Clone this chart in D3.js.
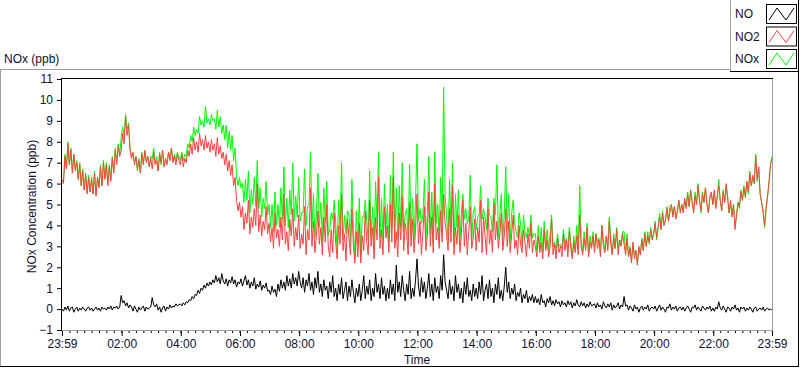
<!DOCTYPE html>
<html>
<head>
<meta charset="utf-8">
<script src="https://cdn.jsdelivr.net/npm/d3@7"></script>
<style>
  body { margin: 0; background: #fff; }
  svg { display: block; font-family: "Liberation Sans", Arial, sans-serif; font-size: 12px; }
</style>
</head>
<body>
<svg id="chart" width="800" height="369"></svg>
<script>
// samples every 3 minutes starting 23:59, one row per hour
const stepMinutes = 3;

const no2Values = [
  6.2, 6.0, 7.3, 6.7, 7.9, 6.9, 7.6, 6.5, 7.4, 6.6, 7.0, 6.2, 6.9, 5.9, 6.6, 5.7, 6.4, 5.5, 6.3, 5.6,
  6.2, 5.5, 6.5, 5.4, 6.3, 5.8, 6.8, 5.9, 7.0, 6.2, 6.9, 5.9, 6.8, 6.1, 7.2, 6.5, 7.6, 6.9, 7.8, 7.3,
  7.6, 8.4, 7.9, 9.2, 8.3, 8.8, 7.6, 7.2, 7.5, 6.9, 7.3, 6.7, 7.1, 6.5, 7.4, 6.9, 7.6, 7.0, 7.3, 6.8,
  7.2, 6.7, 7.5, 6.9, 7.1, 6.6, 7.4, 7.0, 7.6, 6.8, 7.2, 6.9, 7.5, 7.1, 7.7, 7.0, 7.3, 6.9, 7.4, 7.1,
  6.9, 7.4, 6.8, 7.2, 7.0, 7.6, 7.3, 7.9, 7.4, 8.2, 7.6, 8.0, 7.5, 8.4, 7.8, 8.1, 7.6, 8.3, 7.7, 8.0,
  7.5, 8.1, 7.6, 7.9, 7.3, 8.2, 7.4, 7.8, 7.2, 7.5, 6.9, 7.4, 6.6, 7.1, 6.4, 6.9, 5.9, 6.3, 5.2, 4.7,
  5.1, 4.4, 4.9, 3.8, 4.6, 4.1, 5.2, 3.6, 4.4, 3.9, 4.8, 4.0, 6.0, 3.7, 4.5, 3.5, 4.2, 3.8, 4.9, 3.6,
  4.1, 3.2, 3.9, 2.9, 4.6, 3.4, 3.8, 3.0, 4.4, 3.3, 5.5, 3.1, 3.7, 2.8, 4.3, 3.5, 4.8, 3.0, 3.9, 3.3,
  4.5, 2.9, 3.6, 3.1, 4.9, 2.6, 3.8, 3.3, 5.8, 3.0, 4.2, 2.7, 3.5, 4.7, 3.1, 3.9, 2.6, 4.4, 3.2, 5.0,
  3.0, 2.5, 3.8, 2.7, 4.6, 3.2, 2.4, 4.0, 3.1, 5.5, 2.8, 3.6, 2.3, 4.3, 3.4, 2.6, 4.8, 3.0, 2.2, 3.7,
  2.5, 4.1, 2.2, 3.5, 2.8, 4.7, 3.2, 2.6, 5.2, 3.0, 3.9, 2.4, 4.4, 3.3, 6.3, 2.9, 3.8, 2.6, 4.9, 3.4,
  4.0, 2.7, 5.0, 3.2, 6.3, 2.9, 3.7, 2.5, 4.6, 3.3, 5.4, 2.8, 4.1, 3.6, 2.6, 5.1, 3.0, 4.3, 2.7, 3.8,
  5.5, 3.1, 4.2, 2.6, 3.7, 4.9, 2.8, 3.5, 5.6, 3.0, 4.4, 2.7, 6.0, 3.3, 3.9, 2.9, 4.7, 3.2, 5.5, 4.1,
  3.6, 2.8, 4.8, 3.2, 5.9, 2.6, 3.9, 3.1, 4.5, 2.7, 3.6, 5.2, 3.0, 4.1, 2.6, 3.7, 4.9, 2.9, 3.4, 4.3,
  2.8, 3.9, 3.2, 5.2, 2.7, 4.4, 3.5, 2.6, 4.8, 3.1, 3.8, 2.7, 5.0, 3.3, 4.2, 2.9, 3.6, 4.6, 2.8, 3.5,
  4.8, 3.0, 4.2, 2.7, 3.6, 4.5, 2.9, 3.3, 2.6, 4.0, 3.1, 2.7, 3.8, 3.2, 2.5, 3.6, 2.9, 4.1, 2.7, 3.3,
  3.0, 2.5, 3.5, 2.7, 3.2, 2.4, 3.8, 2.8, 3.3, 2.5, 3.0, 4.3, 2.6, 3.1, 2.4, 3.4, 2.7, 3.0, 2.5, 3.6,
  2.8, 3.3, 2.5, 3.7, 2.9, 2.4, 3.2, 2.7, 3.5, 2.6, 4.5, 3.0, 2.6, 3.4, 2.8, 3.9, 2.5, 3.2, 2.9, 3.5,
  2.7, 3.6, 2.9, 3.3, 2.5, 4.0, 3.0, 2.7, 3.5, 2.8, 4.2, 3.1, 2.6, 3.4, 2.9, 3.8, 2.6, 3.3, 3.0, 3.6,
  3.1, 2.6, 3.4, 2.5, 2.9, 2.2, 3.2, 2.4, 2.8, 2.1, 3.0, 2.6, 3.3, 2.8, 3.6, 3.0, 3.5, 3.2, 3.8, 3.3,
  3.6, 4.1, 3.4, 3.9, 4.4, 3.8, 4.6, 4.0, 4.3, 4.8, 4.2, 4.6, 5.0, 4.4, 4.9, 4.3, 4.7, 5.2, 4.6, 5.0,
  4.6, 5.3, 4.8, 5.5, 4.9, 5.7, 5.1, 4.6, 5.4, 5.0, 5.9, 5.2, 4.7, 5.5, 5.1, 5.8, 5.0, 4.6, 5.3, 5.6,
  5.0, 5.7, 4.8, 5.4, 5.9, 5.2, 4.7, 5.6, 5.1, 6.0, 5.3, 4.6, 5.2, 4.4, 5.0, 3.8, 4.5, 5.1, 4.9, 5.6,
  5.2, 5.8, 5.4, 6.1, 5.6, 6.5, 5.9, 6.4, 6.0, 7.3, 6.2, 6.8, 5.5, 5.1, 4.6, 4.0, 4.8, 5.4, 6.1, 6.9,
  7.2
];

const noValues = [
  0.0, -0.1, 0.1, -0.05, 0.15, -0.1, 0.05, 0.1, -0.15, 0.0, 0.1, -0.1, 0.05, -0.05, 0.1, 0.0, -0.1, 0.05, 0.1, -0.05,
  0.05, -0.1, 0.0, 0.1, -0.05, 0.05, -0.1, 0.1, 0.0, 0.05, -0.05, 0.1, 0.0, 0.15, -0.05, 0.1, 0.05, 0.15, 0.0, 0.1,
  0.65, 0.3, 0.4, 0.15, 0.3, 0.05, 0.2, 0.1, -0.1, 0.15, 0.0, -0.15, 0.1, -0.05, 0.05, 0.15, -0.1, 0.1, 0.0, 0.05,
  0.1, 0.55, 0.2, 0.1, 0.25, -0.05, 0.1, -0.15, 0.05, 0.15, -0.1, 0.1, 0.0, 0.2, 0.05, 0.15, 0.1, 0.25, 0.15, 0.2,
  0.25, 0.15, 0.3, 0.2, 0.35, 0.3, 0.45, 0.4, 0.6, 0.5, 0.7, 0.65, 0.9, 0.75, 1.0, 0.9, 1.15, 1.0, 1.25, 1.1,
  1.3, 1.15, 1.4, 1.25, 1.6, 1.3, 1.5, 1.2, 1.7, 1.35, 1.2, 1.45, 1.1, 1.4, 1.25, 1.55, 1.2, 1.4, 1.05, 1.3,
  1.2, 1.45, 1.1, 1.35, 1.6, 1.15, 1.4, 1.0, 1.3, 1.1, 1.5, 0.95, 1.2, 1.05, 1.35, 0.9, 1.15, 1.0, 1.25, 0.85,
  0.9, 0.7, 1.1, 0.8, 0.95, 0.6, 1.2, 0.85, 1.4, 1.0, 1.3, 0.9, 1.6, 1.1, 1.45, 1.0, 1.7, 1.2, 1.5, 1.1,
  1.8, 1.3, 1.0, 1.5, 0.8, 1.4, 1.1, 1.7, 0.9, 1.3, 0.7, 1.5, 1.0, 1.8, 0.8, 1.2, 0.6, 1.4, 0.9, 1.1,
  0.5, 1.3, 0.8, 1.6, 0.6, 1.0, 0.4, 1.2, 0.7, 1.5, 0.5, 0.9, 1.3, 0.4, 1.1, 0.6, 1.4, 0.8, 0.3, 1.0,
  0.6, 1.2, 0.4, 0.9, 1.6, 0.5, 1.1, 0.7, 1.4, 0.4, 1.0, 0.6, 1.7, 0.8, 1.2, 0.5, 1.5, 0.7, 1.1, 0.4,
  1.0, 0.5, 1.4, 0.7, 1.2, 0.4, 2.1, 0.8, 1.3, 0.6, 1.6, 0.9, 0.4, 1.2, 0.7, 1.8, 0.5, 1.0, 0.6, 1.4,
  2.4, 1.1, 0.6, 1.5, 0.8, 1.3, 0.5, 1.0, 1.7, 0.6, 1.2, 0.4, 1.5, 0.8, 1.1, 0.5, 1.6, 0.9, 2.6, 1.3,
  0.9, 0.5, 1.4, 0.7, 1.1, 0.4, 1.6, 0.8, 1.2, 0.5, 1.0, 0.3, 1.3, 0.7, 1.5, 0.6, 0.9, 0.4, 1.2, 0.6,
  1.0, 0.5, 1.3, 0.7, 1.6, 0.4, 0.9, 1.2, 0.5, 1.4, 0.6, 1.0, 0.3, 1.2, 0.7, 1.5, 0.5, 0.9, 0.4, 1.1,
  2.0, 0.8, 1.3, 0.5, 1.0, 0.7, 1.2, 0.4, 0.8, 0.6, 1.0, 0.3, 0.7, 0.5, 0.9, 0.3, 0.6, 0.4, 0.7, 0.3,
  0.6, 0.3, 0.5, 0.2, 0.7, 0.3, 0.4, 0.1, 0.5, 0.3, 0.6, 0.2, 0.4, 0.15, 0.45, 0.25, 0.35, 0.1, 0.4, 0.2,
  0.3, 0.1, 0.4, 0.2, 0.35, 0.05, 0.3, 0.15, 0.45, 0.2, 0.1, 0.35, 0.15, 0.3, 0.05, 0.25, 0.1, 0.35, 0.15, 0.2,
  0.25, 0.05, 0.3, 0.1, 0.2, 0.0, 0.35, 0.15, 0.05, 0.25, 0.1, 0.3, -0.05, 0.2, 0.05, 0.15, 0.3, 0.0, 0.2, 0.1,
  0.6, 0.15, 0.2, -0.05, 0.15, 0.05, -0.1, 0.2, 0.0, 0.1, -0.15, 0.05, 0.15, -0.05, 0.1, 0.0, 0.2, -0.1, 0.05, 0.1,
  0.0, 0.15, -0.1, 0.05, 0.2, -0.05, 0.1, 0.0, -0.15, 0.1, 0.05, 0.25, -0.05, 0.1, 0.0, 0.15, -0.1, 0.05, 0.1, -0.05,
  0.1, -0.1, 0.05, 0.15, 0.0, -0.15, 0.1, 0.05, 0.2, -0.05, 0.1, 0.0, -0.1, 0.15, 0.05, -0.05, 0.1, 0.0, 0.15, -0.1,
  0.05, -0.1, 0.1, 0.0, 0.35, 0.05, -0.05, 0.15, 0.0, -0.15, 0.1, 0.05, -0.1, 0.1, 0.0, 0.2, -0.05, 0.05, -0.15, 0.1,
  0.0, 0.1, -0.1, 0.05, -0.05, 0.1, 0.0, -0.15, 0.05, 0.1, -0.1, 0.0, 0.05, -0.05, 0.1, -0.1, 0.0, 0.05, -0.05, 0.0,
  -0.05
];

const noxValues = [
  6.2, 6.1, 7.4, 6.7, 8.0, 6.9, 7.7, 6.6, 7.4, 6.7, 7.1, 6.2, 7.0, 5.9, 6.7, 5.7, 6.5, 5.6, 6.4, 5.6,
  6.3, 5.5, 6.6, 5.5, 6.3, 5.9, 6.9, 5.9, 7.1, 6.3, 7.0, 6.0, 6.9, 6.2, 7.3, 6.6, 7.7, 7.0, 7.9, 7.4,
  8.2, 8.7, 8.3, 9.3, 8.6, 8.9, 7.7, 7.3, 7.4, 7.0, 7.3, 6.6, 7.2, 6.5, 7.5, 7.0, 7.5, 7.1, 7.3, 6.8,
  7.3, 7.2, 7.7, 7.0, 7.3, 6.6, 7.5, 6.9, 7.6, 6.9, 7.1, 7.0, 7.5, 7.3, 7.7, 7.1, 7.4, 7.1, 7.5, 7.3,
  7.1, 7.5, 7.1, 7.4, 7.3, 7.9, 7.7, 8.3, 8.0, 8.7, 8.3, 8.6, 8.4, 9.2, 8.8, 9.0, 8.7, 9.7, 8.9, 9.1,
  8.8, 9.3, 9.0, 9.1, 8.6, 9.5, 8.7, 9.2, 8.4, 8.8, 8.1, 8.8, 7.7, 8.5, 7.6, 8.3, 7.1, 7.7, 6.3, 5.9,
  6.3, 5.8, 6.0, 5.1, 6.2, 5.2, 6.6, 4.6, 5.7, 5.0, 6.3, 4.9, 7.1, 4.8, 5.8, 4.4, 5.3, 4.8, 6.1, 4.5,
  5.0, 3.9, 5.0, 3.7, 5.6, 4.0, 5.0, 3.9, 5.8, 4.3, 6.8, 4.0, 5.3, 3.9, 5.7, 4.5, 7.0, 4.2, 5.4, 4.4,
  6.3, 4.2, 4.6, 4.6, 6.7, 4.0, 4.9, 5.0, 7.5, 3.9, 5.5, 3.4, 4.5, 6.5, 3.9, 5.1, 3.2, 5.8, 4.1, 6.1,
  3.5, 3.8, 4.6, 4.3, 5.2, 4.2, 2.8, 5.2, 3.8, 7.0, 3.3, 4.5, 3.6, 4.7, 4.5, 3.2, 6.2, 3.8, 2.5, 4.7,
  3.1, 5.3, 2.6, 4.4, 4.4, 5.2, 4.3, 3.3, 6.6, 3.4, 4.9, 3.0, 6.1, 4.1, 7.5, 3.4, 5.3, 3.3, 6.0, 3.8,
  5.0, 3.2, 6.4, 3.9, 7.5, 3.3, 5.8, 3.3, 5.9, 3.9, 7.0, 3.7, 4.5, 4.8, 3.3, 6.9, 3.5, 5.3, 3.3, 5.2,
  7.9, 4.2, 4.8, 4.1, 4.5, 6.2, 3.3, 4.5, 7.3, 3.6, 5.6, 3.1, 7.5, 4.1, 5.0, 3.4, 6.3, 4.1, 10.6, 5.4,
  4.5, 3.3, 6.2, 3.9, 7.0, 3.0, 5.5, 3.9, 5.7, 3.2, 4.6, 5.5, 4.3, 4.8, 4.1, 4.3, 6.4, 3.3, 4.6, 4.9,
  3.8, 4.4, 4.5, 5.9, 4.3, 4.8, 4.4, 3.8, 5.3, 4.5, 4.4, 3.7, 5.3, 4.5, 6.9, 3.4, 4.5, 5.5, 3.2, 4.6,
  6.8, 3.8, 5.5, 3.2, 4.6, 5.2, 4.1, 3.7, 3.4, 4.6, 4.1, 3.0, 4.5, 3.7, 3.4, 3.9, 3.5, 4.5, 3.4, 3.6,
  3.6, 2.8, 4.0, 2.9, 3.9, 2.7, 4.2, 2.9, 3.8, 2.8, 3.6, 4.5, 3.0, 3.2, 2.8, 3.6, 3.0, 3.1, 2.9, 3.8,
  3.1, 3.4, 2.9, 3.9, 3.2, 2.5, 3.5, 2.8, 4.0, 2.8, 5.9, 3.3, 2.7, 3.7, 2.9, 4.1, 2.6, 3.5, 3.0, 3.7,
  2.9, 3.6, 3.2, 3.4, 2.7, 4.0, 3.3, 2.8, 3.5, 3.0, 4.4, 3.4, 2.6, 3.6, 2.9, 3.9, 2.9, 3.3, 3.2, 3.7,
  3.7, 2.7, 3.6, 2.5, 3.0, 2.3, 3.1, 2.6, 2.8, 2.2, 2.9, 2.6, 3.4, 2.8, 3.7, 3.0, 3.7, 3.1, 3.9, 3.4,
  3.6, 4.2, 3.3, 3.9, 4.6, 3.8, 4.7, 4.0, 4.2, 4.9, 4.2, 4.9, 5.0, 4.5, 4.9, 4.4, 4.6, 5.2, 4.7, 5.0,
  4.7, 5.2, 4.9, 5.6, 4.9, 5.6, 5.2, 4.7, 5.6, 5.0, 6.0, 5.2, 4.6, 5.6, 5.1, 5.8, 5.1, 4.6, 5.4, 5.5,
  5.0, 5.6, 4.9, 5.4, 6.2, 5.2, 4.7, 5.7, 5.1, 5.9, 5.4, 4.6, 5.1, 4.5, 5.0, 4.0, 4.4, 5.1, 4.8, 5.7,
  5.2, 5.9, 5.3, 6.1, 5.5, 6.6, 5.9, 6.3, 6.0, 7.4, 6.1, 6.8, 5.5, 5.1, 4.7, 3.9, 4.8, 5.4, 6.0, 6.9,
  7.3
];

const seriesNames = ['NO', 'NO2', 'NOx'];
const seriesColors = ['#000000', '#ff4040', '#00ff00'];
const yTicks = [-1, 0, 1, 2, 3, 4, 5, 6, 7, 8, 9, 10, 11];
const xTickLabels = ['23:59', '02:00', '04:00', '06:00', '08:00', '10:00', '12:00',
  '14:00', '16:00', '18:00', '20:00', '22:00', '23:59'];

const start = new Date(2000, 0, 1, 23, 59);
const end = new Date(2000, 0, 2, 23, 59);
const timeAt = (i) => new Date(start.getTime() + i * stepMinutes * 60000);

const svg = d3.select('#chart');
const plot = { left: 62, right: 772, top: 79, bottom: 330 };
const textColor = '#101030';

const x = d3.scaleTime().domain([start, end]).range([plot.left, plot.right]);
const y = d3.scaleLinear().domain([-1, 11]).range([plot.bottom, plot.top]);

// outer frame
svg.append('line').attr('x1', 0).attr('x2', 730).attr('y1', 69.5).attr('y2', 69.5).attr('stroke', '#a0a0a0');
svg.append('line').attr('x1', 0.5).attr('x2', 0.5).attr('y1', 69).attr('y2', 367).attr('stroke', '#a0a0a0');
svg.append('line').attr('x1', 798.5).attr('x2', 798.5).attr('y1', 70).attr('y2', 367).attr('stroke', '#000');
svg.append('line').attr('x1', 0).attr('x2', 799).attr('y1', 366.5).attr('y2', 366.5).attr('stroke', '#000');

svg.append('text').attr('x', 4).attr('y', 63).attr('fill', textColor).text('NOx (ppb)');

// axes
const majorTimes = xTickLabels.map((d, i) => {
  if (i === 0) return start;
  if (i === xTickLabels.length - 1) return end;
  const [hh, mm] = d.split(':').map(Number);
  return new Date(2000, 0, 2, hh, mm);
});
const minorTimes = d3.range(0, 24 * 60 + 1, 15).map(m => new Date(start.getTime() + m * 60000));

svg.append('g')
  .attr('transform', `translate(0,${plot.bottom})`)
  .call(d3.axisBottom(x).tickValues(minorTimes).tickSize(3).tickFormat(''))
  .call(g => g.select('.domain').remove());

svg.append('g')
  .attr('transform', `translate(0,${plot.bottom})`)
  .call(d3.axisBottom(x).tickValues(majorTimes).tickSize(6).tickPadding(3)
    .tickFormat((d, i) => xTickLabels[i]))
  .call(g => g.select('.domain').remove())
  .call(g => g.selectAll('text').attr('font-size', 12).attr('font-family', null).attr('fill', textColor));

svg.append('g')
  .attr('transform', `translate(${plot.left},0)`)
  .call(d3.axisLeft(y).tickValues(yTicks).tickSize(5).tickPadding(4))
  .call(g => g.select('.domain').remove())
  .call(g => g.selectAll('text').attr('font-size', 12).attr('font-family', null).attr('fill', textColor));

// plot frame
svg.append('line').attr('x1', plot.left).attr('x2', plot.right).attr('y1', plot.bottom + 0.5).attr('y2', plot.bottom + 0.5).attr('stroke', '#a0a0a0');
svg.append('line').attr('x1', plot.right + 0.5).attr('x2', plot.right + 0.5).attr('y1', plot.top).attr('y2', plot.bottom + 1).attr('stroke', '#a0a0a0');
svg.append('line').attr('x1', plot.left).attr('x2', plot.right + 1).attr('y1', plot.top - 0.5).attr('y2', plot.top - 0.5).attr('stroke', '#000');
svg.append('line').attr('x1', plot.left - 0.5).attr('x2', plot.left - 0.5).attr('y1', plot.top - 1).attr('y2', plot.bottom + 1).attr('stroke', '#000');

// axis titles
svg.append('text')
  .attr('transform', `translate(36,${(plot.top + plot.bottom) / 2 + 2}) rotate(-90)`)
  .attr('text-anchor', 'middle').attr('fill', textColor)
  .text('NOx Concentration (ppb)');
svg.append('text')
  .attr('x', (plot.left + plot.right) / 2).attr('y', 364)
  .attr('text-anchor', 'middle').attr('fill', textColor)
  .text('Time');

// series, NOx drawn first so NO2 and NO sit on top
const line = d3.line().x((d, i) => x(timeAt(i))).y(d => y(d));
const series = [
  { values: noxValues, color: seriesColors[2] },
  { values: no2Values, color: seriesColors[1] },
  { values: noValues, color: seriesColors[0] },
];
svg.append('g').selectAll('path')
  .data(series)
  .join('path')
  .attr('d', d => line(d.values))
  .attr('fill', 'none')
  .attr('stroke', d => d.color)
  .attr('stroke-width', 1);

// legend
const legend = svg.append('g');
legend.append('rect').attr('x', 730.5).attr('y', -1).attr('width', 68).attr('height', 72.5)
  .attr('fill', '#fff').attr('stroke', '#a0a0a0');
legend.append('line').attr('x1', 730).attr('x2', 799).attr('y1', 71.5).attr('y2', 71.5).attr('stroke', '#000');
legend.append('line').attr('x1', 798.5).attr('x2', 798.5).attr('y1', 0).attr('y2', 72).attr('stroke', '#000');

const zig = d3.line();
seriesNames.forEach((name, i) => {
  const cy = 14 + i * 22.5;
  legend.append('text').attr('x', 735).attr('y', cy + 4).attr('fill', textColor).text(name);
  legend.append('rect').attr('x', 766.5).attr('y', cy - 9.5).attr('width', 30).attr('height', 19)
    .attr('fill', '#fff').attr('stroke', '#000');
  legend.append('path')
    .attr('d', zig([[769, cy + 6], [777, cy - 6], [786, cy + 6], [794, cy - 6]]))
    .attr('fill', 'none').attr('stroke', seriesColors[i]);
});
</script>
</body>
</html>
